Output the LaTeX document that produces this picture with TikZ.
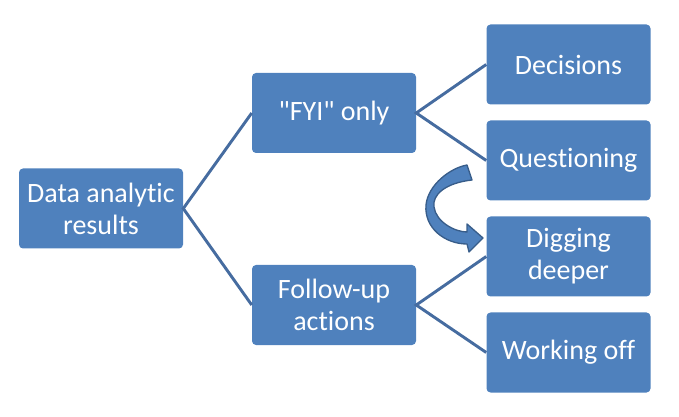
\documentclass[tikz,border=0pt]{standalone}
\usepackage{fontspec}
\setmainfont{Carlito}[Ligatures={NoCommon}]
\usepackage{xcolor}
\definecolor{boxblue}{RGB}{79,129,189}
\definecolor{lineblue}{RGB}{70,108,160}
\definecolor{arrowline}{RGB}{56,93,138}

\begin{document}
\begin{tikzpicture}[x=0.75pt,y=-0.75pt]
	 \tikzstyle{box}=[rectangle,rounded corners=3pt,minimum width=123pt,minimum height=60pt,inner sep=2pt,fill=boxblue,text=white,align=center,font=\fontsize{21}{24}\selectfont]
	 \tikzstyle{link}=[draw,line width=2.2pt,-,lineblue]
	 \tikzstyle{turn}=[fill=boxblue,draw=arrowline,line width=1pt,line join=round]

	 \useasboundingbox (0,0) rectangle (679,417);

	 \node[box] (root) at (101,208.5) {Data analytic\\results};
	 \node[box] (fyi) at (334,113) {\textquotedbl FYI\textquotedbl\ only};
	 \node[box] (follow) at (334,305) {Follow-up\\actions};
	 \node[box] (dec) at (568.5,64.5) {Decisions};
	 \node[box] (ques) at (568.5,160.5) {Questioning};
	 \node[box] (dig) at (568.5,256.5) {Digging\\deeper};
	 \node[box] (work) at (568.5,352.5) {Working off};

	 \draw[link] (fyi.west) -- (root.east) -- (follow.west);
	 \draw[link] (dec.west) -- (fyi.east) -- (ques.west);
	 \draw[link] (dig.west) -- (follow.east) -- (work.west);

	 % curved arrow from questioning down to digging
	 \draw[turn] (472,180) .. controls (445,183) and (432,195) .. (434,207)
		.. controls (436,222) and (455,232) .. (467,232) -- (467,224) -- (483,238)
		-- (469,252) -- (467,244) .. controls (445,244) and (424,228) .. (426,205)
		.. controls (428,185) and (450,168) .. (467,165) -- cycle;
 \end{tikzpicture}
\end{document}
